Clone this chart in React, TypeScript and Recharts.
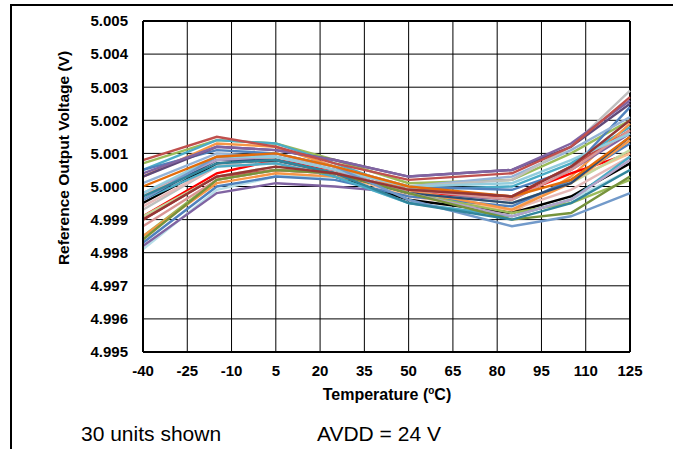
import { LineChart, Line, XAxis, YAxis, CartesianGrid, ReferenceLine } from 'recharts';

// measurement temperatures (°C)
const temps = [-40, -15, 5, 25, 50, 85, 105, 125];
const xTicks = [-40, -25, -10, 5, 20, 35, 50, 65, 80, 95, 110, 125];
const yTicks = [4.995, 4.996, 4.997, 4.998, 4.999, 5.0, 5.001, 5.002, 5.003, 5.004, 5.005];

// reference output voltage per unit (V)
const unit01 = [5.0007, 5.0014, 5.0013, 5.0008, 5.0001, 5.0002, 5.0010, 5.0020];
const unit02 = [5.0005, 5.0014, 5.0013, 5.0007, 4.9999, 5.0000, 5.0007, 5.0018];
const unit03 = [5.0005, 5.0011, 5.0010, 5.0006, 5.0000, 4.9999, 5.0005, 5.0024];
const unit04 = [5.0003, 5.0013, 5.0012, 5.0006, 4.9999, 4.9992, 5.0003, 5.0019];
const unit05 = [5.0001, 5.0010, 5.0009, 5.0005, 5.0000, 5.0003, 5.0011, 5.0021];
const unit06 = [4.9981, 4.9999, 5.0003, 5.0003, 4.9995, 4.9991, 4.9996, 5.0005];
const unit07 = [4.9982, 4.9998, 5.0001, 5.0000, 4.9998, 4.9996, 5.0005, 5.0016];
const unit08 = [4.9991, 5.0004, 5.0008, 5.0005, 4.9998, 4.9997, 5.0004, 5.0010];
const unit09 = [4.9995, 5.0007, 5.0008, 5.0003, 4.9996, 4.9992, 4.9997, 5.0007];
const unit10 = [4.9993, 5.0006, 5.0009, 5.0006, 5.0000, 5.0002, 5.0012, 5.0029];
const unit11 = [4.9994, 5.0006, 5.0007, 5.0004, 4.9997, 4.9993, 4.9999, 5.0009];
const unit12 = [4.9997, 5.0009, 5.0008, 5.0004, 4.9997, 4.9993, 5.0002, 5.0010];
const unit13 = [4.9991, 5.0003, 5.0006, 5.0004, 4.9998, 4.9995, 5.0001, 5.0011];
const unit14 = [4.9983, 5.0000, 5.0003, 5.0002, 4.9997, 4.9994, 5.0002, 5.0013];
const unit15 = [4.9985, 5.0002, 5.0005, 5.0004, 4.9998, 4.9992, 4.9995, 5.0002];
const unit16 = [4.9990, 5.0003, 5.0005, 5.0004, 4.9999, 4.9997, 5.0006, 5.0017];
const unit17 = [4.9985, 5.0001, 5.0004, 5.0003, 4.9999, 4.9993, 5.0001, 5.0014];
const unit18 = [4.9996, 5.0006, 5.0007, 5.0003, 4.9995, 4.9991, 4.9996, 5.0009];
const unit19 = [4.9996, 5.0008, 5.0008, 5.0004, 4.9998, 4.9995, 5.0001, 5.0015];
const unit20 = [4.9988, 5.0002, 5.0005, 5.0004, 4.9999, 4.9996, 5.0005, 5.0017];
const unit21 = [4.9998, 5.0008, 5.0009, 5.0005, 4.9998, 4.9991, 4.9996, 5.0008];
const unit22 = [4.9998, 5.0009, 5.0009, 5.0005, 5.0000, 5.0001, 5.0008, 5.0016];
const unit23 = [4.9984, 5.0002, 5.0005, 5.0004, 4.9998, 4.9990, 4.9992, 5.0003];
const unit24 = [4.9996, 5.0009, 5.0010, 5.0006, 4.9996, 4.9988, 4.9991, 4.9998];
const unit25 = [5.0000, 5.0009, 5.0010, 5.0006, 5.0000, 4.9997, 5.0002, 5.0015];
const unit26 = [4.9997, 5.0007, 5.0008, 5.0004, 4.9995, 4.9990, 4.9995, 5.0005];
const unit27 = [4.9990, 5.0003, 5.0006, 5.0004, 4.9999, 4.9997, 5.0006, 5.0020];
const unit28 = [5.0003, 5.0012, 5.0011, 5.0008, 5.0003, 5.0005, 5.0012, 5.0025];
const unit29 = [5.0004, 5.0012, 5.0011, 5.0008, 5.0003, 5.0005, 5.0013, 5.0026];
const unit30 = [5.0008, 5.0015, 5.0012, 5.0007, 5.0002, 5.0004, 5.0012, 5.0027];

const units = [
  unit01, unit02, unit03, unit04, unit05, unit06, unit07, unit08, unit09, unit10,
  unit11, unit12, unit13, unit14, unit15, unit16, unit17, unit18, unit19, unit20,
  unit21, unit22, unit23, unit24, unit25, unit26, unit27, unit28, unit29, unit30,
];

const colors = [
  '#9BBB59', '#4BACC6', '#4F81BD', '#F79646', '#95B3D7', '#B7DEE8', '#8064A2', '#FF0000', '#000000', '#BFBFBF',
  '#E6B9B8', '#FAC090', '#C3D69B', '#4F81BD', '#9BBB59', '#C0504D', '#F79646', '#4BACC6', '#2C4D75', '#D99694',
  '#B3A2C7', '#93CDDD', '#77933C', '#729ACA', '#E46C0A', '#31859C', '#953735', '#604A7B', '#8064A2', '#C0504D',
];

const rows = temps.map((t, i) => {
  const row: Record<string, number> = { temp: t };
  units.forEach((u, k) => {
    row['u' + k] = u[i];
  });
  return row;
});

const font = "Arial, 'Liberation Sans', sans-serif";
const tickStyle = { fontFamily: font, fontSize: 15, fontWeight: 'bold', fill: '#000' };

export default function App() {
  return (
    <div style={{ position: 'absolute', left: 0, top: 0, width: 673, height: 449, background: '#fff' }}>
      <div
        style={{
          position: 'absolute',
          left: 10,
          top: 4,
          width: 663,
          height: 445,
          borderLeft: '2px solid #000',
          borderTop: '2px solid #000',
          boxSizing: 'border-box',
        }}
      />
      <LineChart
        width={673}
        height={449}
        data={rows}
        margin={{ top: 21, right: 43, bottom: 0, left: 0 }}
        style={{ position: 'absolute', left: 0, top: 0 }}
      >
        <CartesianGrid stroke="#000" strokeWidth={1} />
        <XAxis
          dataKey="temp"
          type="number"
          domain={[-40, 125]}
          ticks={xTicks}
          height={97}
          tickSize={0}
          tickLine={false}
          tickMargin={13}
          axisLine={{ stroke: '#000', strokeWidth: 2 }}
          tick={tickStyle}
          interval={0}
        />
        <YAxis
          type="number"
          domain={[4.995, 5.005]}
          ticks={yTicks}
          width={143}
          tickSize={0}
          tickLine={false}
          tickMargin={15}
          axisLine={{ stroke: '#000', strokeWidth: 2 }}
          tick={tickStyle}
          tickFormatter={(v: number) => v.toFixed(3)}
          interval={0}
        />
        <ReferenceLine x={125} stroke="#000" strokeWidth={2} />
        <ReferenceLine y={5.005} stroke="#000" strokeWidth={2} />
        {units.map((_, k) => (
          <Line
            key={k}
            type="linear"
            dataKey={'u' + k}
            stroke={colors[k]}
            strokeWidth={2.4}
            dot={false}
            isAnimationActive={false}
          />
        ))}
      </LineChart>
      <svg width={673} height={449} style={{ position: 'absolute', left: 0, top: 0, pointerEvents: 'none' }}>
        <text
          x={69}
          y={158}
          transform="rotate(-90 69 158)"
          textAnchor="middle"
          fontFamily={font}
          fontSize={15.5}
          fontWeight="bold"
          fill="#000"
        >
          Reference Output Voltage (V)
        </text>
        <text x={387} y={400} textAnchor="middle" fontFamily={font} fontSize={16} fontWeight="bold" fill="#000">
          Temperature (<tspan fontSize={10} dy={-6}>o</tspan>
          <tspan dy={6}>C)</tspan>
        </text>
        <text x={81} y={441} fontFamily={font} fontSize={21} fill="#000">
          30 units shown
        </text>
        <text x={317} y={441} fontFamily={font} fontSize={21} fill="#000">
          AVDD = 24 V
        </text>
      </svg>
    </div>
  );
}
